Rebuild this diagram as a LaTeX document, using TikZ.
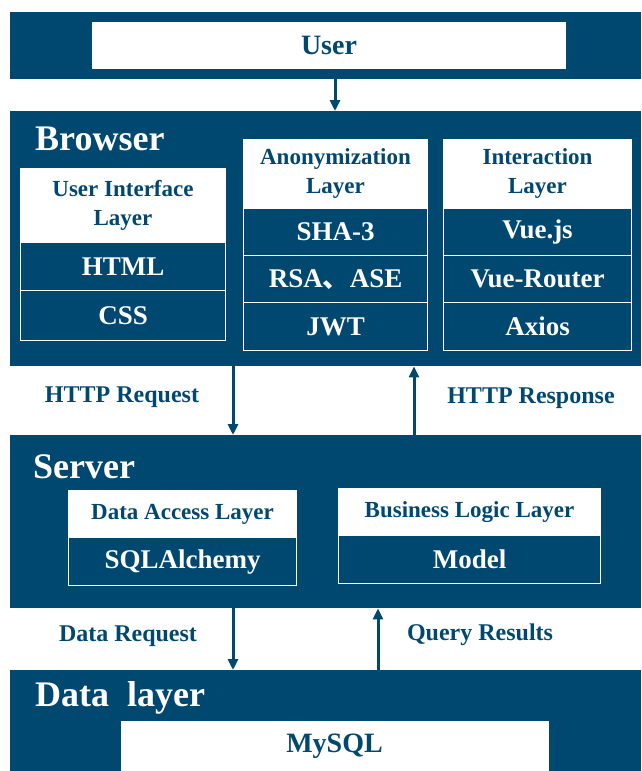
\documentclass[tikz,border=0pt]{standalone}
\usepackage{fontspec}
\setmainfont{Liberation Serif}
\newfontfamily\cjkfont{Noto Sans CJK SC}
\usetikzlibrary{arrows.meta}
\definecolor{navy}{RGB}{0,72,112}
\tikzset{
 band/.style={fill=navy, draw=none, inner sep=0pt, anchor=north west},
 whitebox/.style={fill=white, draw=white, line width=1pt, text=navy, inner sep=0pt, anchor=north west, align=center, font=\bfseries\fontsize{23}{29}\selectfont},
 darkrow/.style={fill=navy, draw=white, line width=1.2pt, text=white, inner sep=0pt, anchor=north west, font=\bfseries\fontsize{27}{32}\selectfont},
 title/.style={text=white, anchor=base west, inner sep=0pt, font=\bfseries\fontsize{36}{40}\selectfont},
 lbl/.style={text=navy, inner sep=0pt, font=\bfseries\fontsize{24}{28}\selectfont},
 arr/.style={draw=navy, line width=3pt, -{Triangle[width=10pt,length=11pt]}},
}
\newcommand{\bx}[7]{\node[#6, minimum width=#4pt-#2pt, minimum height=#5pt-#3pt] (#1) at (#2,#3) {#7};}
\begin{document}
\begin{tikzpicture}[x=1pt,y=-1pt]
\useasboundingbox (0,0) rectangle (641,771);
% bands
\bx{userband}{10}{12}{641}{79}{band}{}
\bx{browser}{10}{111}{641}{366}{band}{}
\bx{server}{10}{435}{641}{608}{band}{}
\bx{data}{10}{670}{641}{771}{band}{}
% user
\bx{user}{92}{22}{565}{68}{whitebox, font=\bfseries\fontsize{28}{32}\selectfont}{User}
% titles
\node[title] (tbrowser) at (35,150) {Browser};
\node[title] (tserver) at (33,478) {Server};
\node[title] (tdata) at (35,706) {Data\hspace{0.5em}layer};
% UI layer
\bx{uih}{20}{168}{225}{242}{whitebox}{User Interface\\Layer}
\bx{html}{20}{242}{225}{290}{darkrow}{HTML}
\bx{css}{20}{290}{225}{340}{darkrow}{CSS}
% Anonymization
\bx{anh}{243}{139}{427}{208}{whitebox}{Anonymization\\Layer}
\bx{sha}{243}{208}{427}{255}{darkrow}{SHA-3}
\bx{rsa}{243}{255}{427}{302}{darkrow}{RSA{\cjkfont 、}ASE}
\bx{jwt}{243}{302}{427}{350}{darkrow}{JWT}
% Interaction
\bx{inh}{443}{139}{631}{208}{whitebox}{Interaction\\Layer}
\bx{vue}{443}{208}{631}{255}{darkrow}{Vue.js}
\bx{router}{443}{255}{631}{302}{darkrow}{Vue-Router}
\bx{axios}{443}{302}{631}{350}{darkrow}{Axios}
% server boxes
\bx{dah}{68}{490}{296}{537}{whitebox}{Data Access Layer}
\bx{sqla}{68}{537}{296}{585}{darkrow}{SQLAlchemy}
\bx{blh}{338}{488}{600}{535}{whitebox}{Business Logic Layer}
\bx{model}{338}{535}{600}{583}{darkrow}{Model}
% mysql
\bx{mysql}{120}{720}{548}{771}{whitebox, draw=none, font=\bfseries\fontsize{28}{32}\selectfont}{MySQL}
% labels
\node[lbl] (lreq) at (122,397) {HTTP Request};
\node[lbl] (lresp) at (531,398) {HTTP Response};
\node[lbl] (ldreq) at (128,636) {Data Request};
\node[lbl] (lqr) at (480,635) {Query Results};
% arrows
\coordinate (xa) at (335,0);
\coordinate (xb) at (233,0);
\coordinate (xc) at (414,0);
\coordinate (xd) at (378,0);
\draw[arr] (userband.south -| xa) -- (browser.north -| xa);
\draw[arr] (browser.south -| xb) -- (server.north -| xb);
\draw[arr] (server.north -| xc) -- (browser.south -| xc);
\draw[arr] (server.south -| xb) -- (data.north -| xb);
\draw[arr] (data.north -| xd) -- (server.south -| xd);
\end{tikzpicture}
\end{document}
